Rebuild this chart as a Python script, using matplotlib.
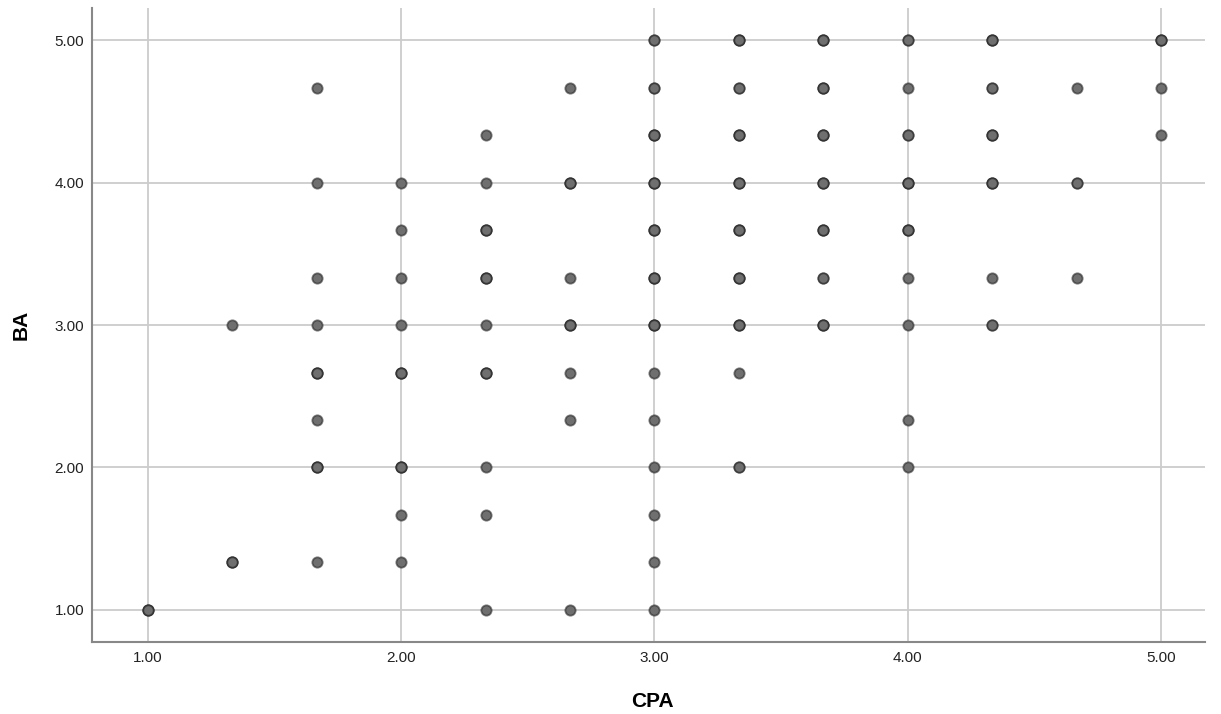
import numpy as np
import matplotlib
matplotlib.use("Agg")
import matplotlib.pyplot as plt

plt.rcParams['font.family'] = ['Liberation Sans', 'DejaVu Sans']

# CPA column values and the BA values present in each column (n = number of overlapping cases)
cpa_cols = [1.0, 4/3, 5/3, 2.0, 7/3, 8/3, 3.0, 10/3, 11/3, 4.0, 13/3, 14/3, 5.0]
ba_by_col = [
    [1.0],
    [3.0, 4/3],
    [14/3, 4.0, 10/3, 3.0, 8/3, 7/3, 2.0, 4/3],
    [4.0, 11/3, 10/3, 3.0, 8/3, 2.0, 5/3, 4/3],
    [13/3, 4.0, 11/3, 10/3, 3.0, 8/3, 2.0, 5/3, 1.0],
    [14/3, 4.0, 10/3, 3.0, 8/3, 7/3, 1.0],
    [5.0, 14/3, 13/3, 4.0, 11/3, 10/3, 3.0, 8/3, 7/3, 2.0, 5/3, 4/3, 1.0],
    [5.0, 14/3, 13/3, 4.0, 11/3, 10/3, 3.0, 8/3, 2.0],
    [5.0, 14/3, 13/3, 4.0, 11/3, 10/3, 3.0],
    [5.0, 14/3, 13/3, 4.0, 11/3, 10/3, 3.0, 7/3, 2.0],
    [5.0, 14/3, 13/3, 4.0, 10/3, 3.0],
    [14/3, 4.0, 10/3],
    [5.0, 14/3, 13/3],
]
n_by_col = [
    [3],
    [1, 3],
    [1, 1, 1, 1, 3, 1, 3, 1],
    [1, 1, 1, 1, 3, 3, 1, 1],
    [1, 1, 3, 3, 1, 3, 1, 1, 1],
    [1, 3, 1, 3, 1, 1, 1],
    [2, 2, 3, 3, 3, 3, 3, 1, 1, 1, 1, 1, 1],
    [3, 2, 3, 3, 3, 3, 3, 1, 2],
    [3, 3, 3, 3, 3, 2, 3],
    [2, 1, 2, 3, 3, 1, 1, 1, 1],
    [3, 2, 3, 3, 1, 2],
    [1, 2, 1],
    [3, 1, 1],
]

fig = plt.figure(figsize=(12.21, 7.14), dpi=100)
ax = fig.add_axes([0.0753, 0.1008, 0.9116, 0.888])

for x, ys, ns in zip(cpa_cols, ba_by_col, n_by_col):
    for y, n in zip(ys, ns):
        for k in range(n):
            ax.scatter(x, y, s=55, facecolor="#6f6f6f", edgecolor=(0.1, 0.1, 0.1, 0.55),
                       linewidth=1.3, zorder=3)

ticks = [1.0, 2.0, 3.0, 4.0, 5.0]
ax.set_xticks(ticks)
ax.set_yticks(ticks)
ax.set_xticklabels(["%.2f" % t for t in ticks])
ax.set_yticklabels(["%.2f" % t for t in ticks])
ax.set_xlim(0.779, 5.174)
ax.set_ylim(0.775, 5.225)
ax.tick_params(length=0, labelsize=11, colors="#222222")
ax.tick_params(axis="x", pad=6.5)
ax.tick_params(axis="y", pad=5.5)
ax.grid(True, color="#cccccc", linewidth=1.3, zorder=0)
ax.set_axisbelow(True)
for side in ["top", "right"]:
    ax.spines[side].set_visible(False)
for side in ["left", "bottom"]:
    ax.spines[side].set_color("#888888")
    ax.spines[side].set_linewidth(1.5)

ax.set_xlabel("CPA", fontsize=15, fontweight="bold", va="center")
ax.set_ylabel("BA", fontsize=15, fontweight="bold", va="center")
ax.xaxis.set_label_coords(0.5035, -0.0935)
ax.yaxis.set_label_coords(-0.0638, 0.5)

fig.savefig("out.png", dpi=100)
